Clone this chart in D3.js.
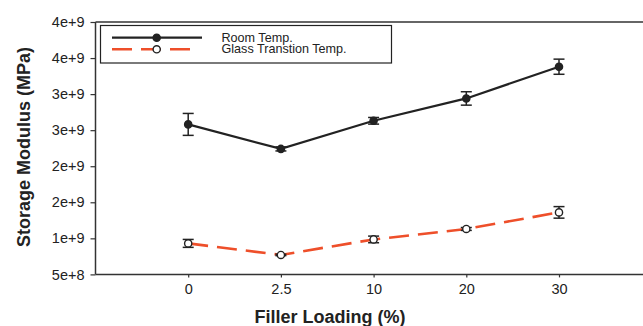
<!DOCTYPE html>
<html>
<head>
<meta charset="utf-8">
<script src="https://cdn.jsdelivr.net/npm/d3@7"></script>
<style>
  body { margin: 0; background: #fff; }
  svg { display: block; font-family: "Liberation Sans", Arial, sans-serif; }
</style>
</head>
<body>
<script>
// filler loading categories (x axis)
var categories = ["0", "2.5", "10", "20", "30"];

// storage modulus, room temperature
var roomTemp = [2.58e9, 2.24e9, 2.63e9, 2.94e9, 3.38e9];
var roomErr = [1.52e8, 2.8e7, 4.6e7, 9.3e7, 1.05e8];

// storage modulus, glass transition temperature
var glassTemp = [0.93e9, 0.77e9, 0.985e9, 1.13e9, 1.36e9];
var glassErr = [5.5e7, 1e7, 4.6e7, 2e7, 8e7];

// y ticks and their printed labels
var yTicks = [5e8, 1e9, 1.5e9, 2e9, 2.5e9, 3e9, 3.5e9, 4e9];
var yTickLabels = ["5e+8", "1e+9", "2e+9", "2e+9", "3e+9", "3e+9", "4e+9", "4e+9"];

var seriesNames = ["Room Temp.", "Glass Transtion Temp."];

var width = 643;
var height = 326;
var plotLeft = 95.5;
var plotTop = 22;
var plotBottom = 274.4;
var red = "#ee4f2a";

var svg = d3.select("body")
            .append("svg")
            .attr("width", width)
            .attr("height", height);

// scales, plot runs past the right edge of the picture
var xScale = d3.scalePoint()
               .domain(categories)
               .range([plotLeft, plotLeft + 6 * 92.7])
               .padding(1);

var yScale = d3.scaleLinear()
               .domain([5e8, 4e9])
               .range([plotBottom, plotTop]);

// y axis
var yAxis = d3.axisLeft(yScale)
              .tickValues(yTicks)
              .tickSize(5)
              .tickPadding(6)
              .tickFormat(function(d, i) { return yTickLabels[i]; });

var gy = svg.append("g")
   .attr("transform", "translate(" + plotLeft + ",0)")
   .call(yAxis);

// x axis
var xAxis = d3.axisBottom(xScale)
              .tickSize(3)
              .tickPadding(6);

var gx = svg.append("g")
   .attr("transform", "translate(0," + plotBottom + ")")
   .call(xAxis);

gx.select(".domain").attr("d", "M" + plotLeft + ",0H" + width);
gy.select(".domain").attr("d", "M0," + plotBottom + "V" + plotTop);

svg.selectAll(".domain").attr("stroke", "#333").attr("stroke-width", 1.5);
svg.selectAll(".tick line").attr("stroke", "#333").attr("stroke-width", 1.2);
svg.selectAll(".tick text")
   .style("font-size", "14.5px")
   .style("font-family", "Liberation Sans, Arial, sans-serif")
   .attr("fill", "#222");

// top border of the frame
svg.append("line")
   .attr("x1", plotLeft).attr("x2", width)
   .attr("y1", plotTop).attr("y2", plotTop)
   .attr("stroke", "#333")
   .attr("stroke-width", 1.5);

// axis titles
svg.append("text")
   .attr("transform", "translate(" + 30 + "," + 147 + ")rotate(-90)")
   .attr("text-anchor", "middle")
   .style("font-size", "18px")
   .style("font-weight", "bold")
   .attr("fill", "#222")
   .text("Storage Modulus (MPa)");

svg.append("text")
   .attr("x", 330)
   .attr("y", 323)
   .attr("text-anchor", "middle")
   .style("font-size", "18px")
   .style("font-weight", "bold")
   .attr("fill", "#222")
   .text("Filler Loading (%)");

// draws one series with its error bars and markers
function drawSeries(values, errors, color, dashed, filled) {
  var line = d3.line()
               .x(function(d, i) { return xScale(categories[i]); })
               .y(function(d) { return yScale(d); });

  svg.append("path")
     .datum(values)
     .attr("d", line)
     .attr("fill", "none")
     .attr("stroke", color)
     .attr("stroke-width", dashed ? 2.6 : 2.2)
     .attr("stroke-dasharray", dashed ? "20,9" : null);

  var err = svg.append("g").selectAll("g")
               .data(values)
               .enter()
               .append("g")
               .attr("stroke", "#222")
               .attr("stroke-width", 1.5);

  err.append("line")
     .attr("x1", function(d, i) { return xScale(categories[i]); })
     .attr("x2", function(d, i) { return xScale(categories[i]); })
     .attr("y1", function(d, i) { return yScale(d + errors[i]); })
     .attr("y2", function(d, i) { return yScale(d - errors[i]); });

  [1, -1].forEach(function(s) {
    err.append("line")
       .attr("x1", function(d, i) { return xScale(categories[i]) - 5.5; })
       .attr("x2", function(d, i) { return xScale(categories[i]) + 5.5; })
       .attr("y1", function(d, i) { return yScale(d + s * errors[i]); })
       .attr("y2", function(d, i) { return yScale(d + s * errors[i]); });
  });

  svg.append("g").selectAll("circle")
     .data(values)
     .enter()
     .append("circle")
     .attr("cx", function(d, i) { return xScale(categories[i]); })
     .attr("cy", function(d) { return yScale(d); })
     .attr("r", 3.6)
     .attr("fill", filled ? "#222" : "#fff")
     .attr("stroke", "#222")
     .attr("stroke-width", 1.4);
}

drawSeries(glassTemp, glassErr, red, true, false);
drawSeries(roomTemp, roomErr, "#222", false, true);

// legend
var legend = svg.append("g");

legend.append("rect")
      .attr("x", 100.5).attr("y", 25.5)
      .attr("width", 291).attr("height", 37.5)
      .attr("fill", "#fff")
      .attr("stroke", "#222")
      .attr("stroke-width", 1.2);

var legendY = [37.7, 49.3];

legend.append("line")
      .attr("x1", 112).attr("x2", 202)
      .attr("y1", legendY[0]).attr("y2", legendY[0])
      .attr("stroke", "#222").attr("stroke-width", 2.2);

legend.append("line")
      .attr("x1", 112).attr("x2", 192)
      .attr("y1", legendY[1]).attr("y2", legendY[1])
      .attr("stroke", red).attr("stroke-width", 2.6)
      .attr("stroke-dasharray", "20,9");

legend.append("circle")
      .attr("cx", 156.7).attr("cy", legendY[0]).attr("r", 3.6)
      .attr("fill", "#222").attr("stroke", "#222").attr("stroke-width", 1.4);

legend.append("circle")
      .attr("cx", 156.7).attr("cy", legendY[1]).attr("r", 3.6)
      .attr("fill", "#fff").attr("stroke", "#222").attr("stroke-width", 1.4);

legend.selectAll("text")
      .data(seriesNames)
      .enter()
      .append("text")
      .attr("x", 221.5)
      .attr("y", function(d, i) { return [42, 53][i]; })
      .style("font-size", "12.6px")
      .attr("fill", "#222")
      .text(function(d) { return d; });
</script>
</body>
</html>
